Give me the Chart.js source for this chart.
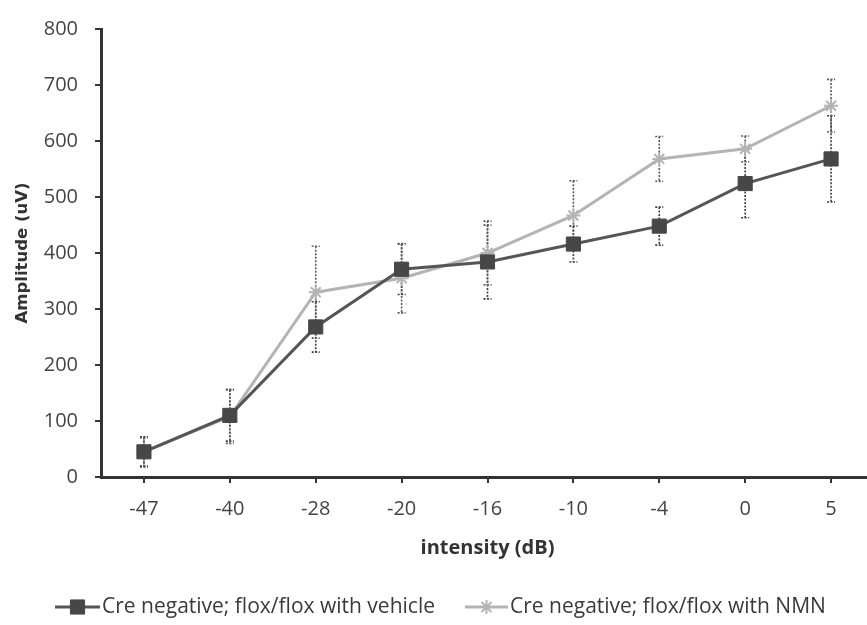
<!DOCTYPE html>
<html>
<head>
<meta charset="utf-8">
<script src="https://cdn.jsdelivr.net/npm/chart.js@4"></script>
<style>
html,body{margin:0;padding:0;background:#fff;overflow:hidden;}
#wrap{width:867px;height:625px;position:relative;overflow:hidden;}
#c{display:block;}
</style>
</head>
<body>
<div id="wrap"><canvas id="c" width="885" height="625"></canvas></div>
<script>
const categories = ['-47', '-40', '-28', '-20', '-16', '-10', '-4', '0', '5'];
const vehicleLabel = 'Cre negative; flox/flox with vehicle';
const vehicleValues = [45, 110, 268, 371, 384, 416, 448, 524, 568];
const vehicleErrors = [27, 46, 45, 45, 66, 32, 34, 61, 77];
const nmnLabel = 'Cre negative; flox/flox with NMN';
const nmnValues = [45, 108, 330, 355, 400, 467, 568, 586, 663];
const nmnErrors = [25, 48, 82, 62, 57, 62, 40, 23, 47];
const yTicks = [0, 100, 200, 300, 400, 500, 600, 700, 800];

const FONT = '"Open Sans", Lato, sans-serif';

const errorBars = {
  id: 'errorBars',
  beforeDatasetsDraw(chart) {
    const ctx = chart.ctx;
    const y = chart.scales.y;
    ctx.save();
    chart.data.datasets.forEach((ds, di) => {
      const meta = chart.getDatasetMeta(di);
      ctx.strokeStyle = ds.errColor;
      ctx.lineWidth = 1.6;
      ctx.setLineDash([2, 1.5]);
      ds.errors.forEach((e, i) => {
        const pt = meta.data[i];
        if (!pt) return;
        const x = pt.x;
        const yt = y.getPixelForValue(ds.data[i] + e);
        const yb = y.getPixelForValue(ds.data[i] - e);
        ctx.beginPath();
        ctx.moveTo(x, yt); ctx.lineTo(x, yb);
        ctx.moveTo(x - 4, yt); ctx.lineTo(x + 4, yt);
        ctx.moveTo(x - 4, yb); ctx.lineTo(x + 4, yb);
        ctx.stroke();
      });
    });
    ctx.restore();
  }
};

const customLegend = {
  id: 'customLegend',
  afterDraw(chart) {
    const ctx = chart.ctx;
    const items = [
      {ds: chart.data.datasets[0], x0: 55, x1: 100, tx: 102},
      {ds: chart.data.datasets[1], x0: 465, x1: 508, tx: 510}
    ];
    const yy = 607;
    ctx.save();
    items.forEach(it => {
      ctx.strokeStyle = it.ds.borderColor;
      ctx.lineWidth = it.ds.borderWidth;
      ctx.beginPath();
      ctx.moveTo(it.x0, yy); ctx.lineTo(it.x1, yy);
      ctx.stroke();
      ctx.fillStyle = it.ds.pointBackgroundColor;
      ctx.strokeStyle = it.ds.pointBorderColor;
      ctx.lineWidth = it.ds.pointBorderWidth;
      Chart.helpers.drawPoint(ctx, {
        pointStyle: it.ds.pointStyle,
        radius: it.ds.pointRadius,
        borderWidth: it.ds.pointBorderWidth,
        rotation: 0
      }, (it.x0 + it.x1) / 2, yy);
      ctx.fillStyle = '#3a3a3a';
      ctx.font = '21px ' + FONT;
      ctx.textBaseline = 'middle';
      ctx.textAlign = 'left';
      ctx.fillText(it.ds.label, it.tx, yy);
    });
    ctx.restore();
  }
};

new Chart(document.getElementById('c'), {
  type: 'line',
  data: {
    labels: categories,
    datasets: [
      {
        label: vehicleLabel,
        data: vehicleValues,
        errors: vehicleErrors,
        errColor: '#3c3c3c',
        borderColor: '#555555',
        borderWidth: 3,
        pointStyle: 'rect',
        pointRadius: 10,
        pointBackgroundColor: '#474747',
        pointBorderColor: '#474747',
        pointBorderWidth: 1,
        tension: 0
      },
      {
        label: nmnLabel,
        data: nmnValues,
        errors: nmnErrors,
        errColor: '#5a5a5a',
        borderColor: '#b4b4b4',
        borderWidth: 3,
        pointStyle: 'star',
        pointRadius: 7,
        pointBackgroundColor: '#b4b4b4',
        pointBorderColor: '#b4b4b4',
        pointBorderWidth: 2,
        tension: 0
      }
    ]
  },
  options: {
    responsive: false,
    animation: false,
    events: [],
    layout: {padding: {top: 22, right: 0, bottom: 40, left: 0}},
    plugins: {legend: {display: false}, tooltip: {enabled: false}},
    scales: {
      x: {
        type: 'category',
        offset: true,
        afterFit(s) { s.height = 108; },
        grid: {display: true, drawOnChartArea: false, drawTicks: true, tickLength: 6, offset: false, color: '#333', lineWidth: 2},
        border: {display: true, color: '#333', width: 3},
        ticks: {color: '#444', font: {family: FONT, size: 20}, padding: 14, maxRotation: 0, autoSkip: false},
        title: {display: true, text: 'intensity (dB)', color: '#333', font: {family: FONT, size: 20, weight: 'bold'}, padding: {top: 25, bottom: 25}}
      },
      y: {
        min: 0,
        max: 800,
        afterFit(s) { s.width = 101; },
        afterBuildTicks(s) { s.ticks = yTicks.map(v => ({value: v})); },
        grid: {display: true, drawOnChartArea: false, drawTicks: true, tickLength: 6, color: '#333', lineWidth: 2},
        border: {display: true, color: '#333', width: 3},
        ticks: {color: '#444', font: {family: FONT, size: 20}, padding: 17},
        title: {display: true, text: 'Amplitude (uV)', color: '#333', font: {family: '"DejaVu Sans", sans-serif', size: 16.5, weight: 'bold'}, padding: {top: 13, bottom: 13}}
      }
    }
  },
  plugins: [errorBars, customLegend]
});
</script>
</body>
</html>
